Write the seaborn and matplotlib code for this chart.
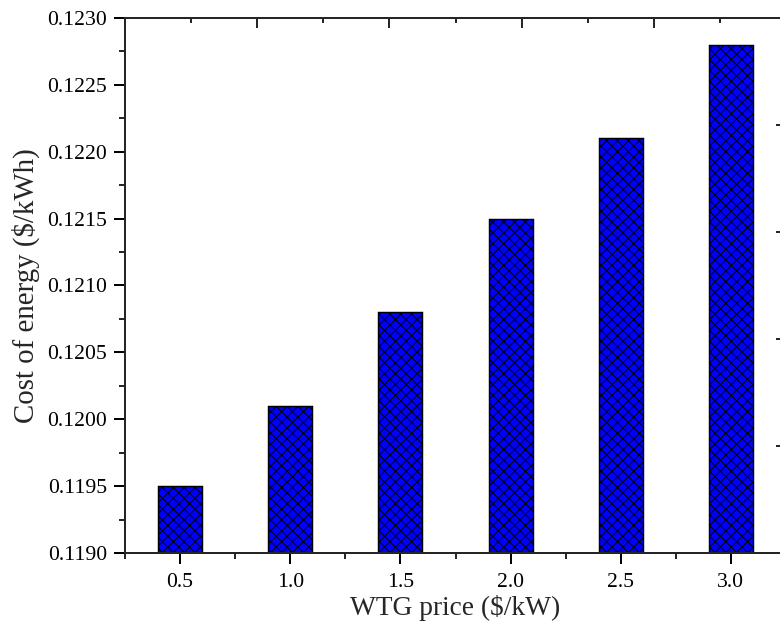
import matplotlib
matplotlib.use('Agg')
import matplotlib.pyplot as plt
import seaborn as sns
import numpy as np
import pandas as pd
from matplotlib.ticker import MultipleLocator, FixedLocator

# WTG price vs cost of energy
wtg_price = ['0.5', '1.0', '1.5', '2.0', '2.5', '3.0']
coe = [0.1195, 0.1201, 0.1208, 0.1215, 0.1221, 0.1228]

y_min, y_max = 0.1190, 0.1230

sns.set_style('ticks')
plt.rcParams['font.family'] = ['Liberation Serif', 'DejaVu Serif']
plt.rcParams['hatch.linewidth'] = 0.55
plt.rcParams['axes.linewidth'] = 1.1

df = pd.DataFrame({'price': wtg_price, 'coe': coe})

fig = plt.figure(figsize=(6.0, 4.8), dpi=130)
ax = fig.add_axes([0.1603, 0.1138, 0.8474, 0.8574])

sns.barplot(data=df, x='price', y='coe', color='#0000ff', saturation=1,
            width=0.4, edgecolor='black', linewidth=0.8, hatch='xxxx', ax=ax)

ax.set_xlim(-0.5, 5.5)
ax.set_ylim(y_min, y_max)
ax.set_yticks(np.arange(0.1190, 0.12301, 0.0005))
ax.set_yticklabels([f'{v:.4f}' for v in np.arange(0.1190, 0.12301, 0.0005)])
ax.yaxis.set_minor_locator(MultipleLocator(0.00025))
ax.xaxis.set_minor_locator(FixedLocator(np.arange(-0.5, 5.6, 1.0)))

ax.tick_params(axis='both', which='major', direction='out', length=6, width=1.1,
               labelsize=12, colors='black', pad=4)
ax.tick_params(axis='both', which='minor', direction='out', length=3.5, width=1.1)
ax.tick_params(axis='x', which='major', pad=5)

ax.set_xlabel('WTG price ($/kW)', fontsize=15.2, labelpad=2)
ax.set_ylabel('Cost of energy ($/kWh)', fontsize=16, labelpad=4)

for s in ax.spines.values():
    s.set_visible(True)
    s.set_color('black')

# top and right ticks (no labels)
ax_top = ax.twiny()
ax_top.set_xlim(0, 5)
ax_top.xaxis.set_major_locator(MultipleLocator(1))
ax_top.xaxis.set_minor_locator(MultipleLocator(0.5))
ax_top.tick_params(axis='x', which='major', direction='in', length=5.5, width=1.1, labeltop=False)
ax_top.tick_params(axis='x', which='minor', direction='in', length=3, width=1.1)

ax_right = ax.twinx()
ax_right.set_ylim(0, 5)
ax_right.yaxis.set_major_locator(MultipleLocator(1))
ax_right.yaxis.set_minor_locator(MultipleLocator(0.5))
ax_right.tick_params(axis='y', which='major', direction='in', length=5.5, width=1.1, labelright=False)
ax_right.tick_params(axis='y', which='minor', direction='in', length=3, width=1.1)

fig.savefig('out.png', dpi=130)
